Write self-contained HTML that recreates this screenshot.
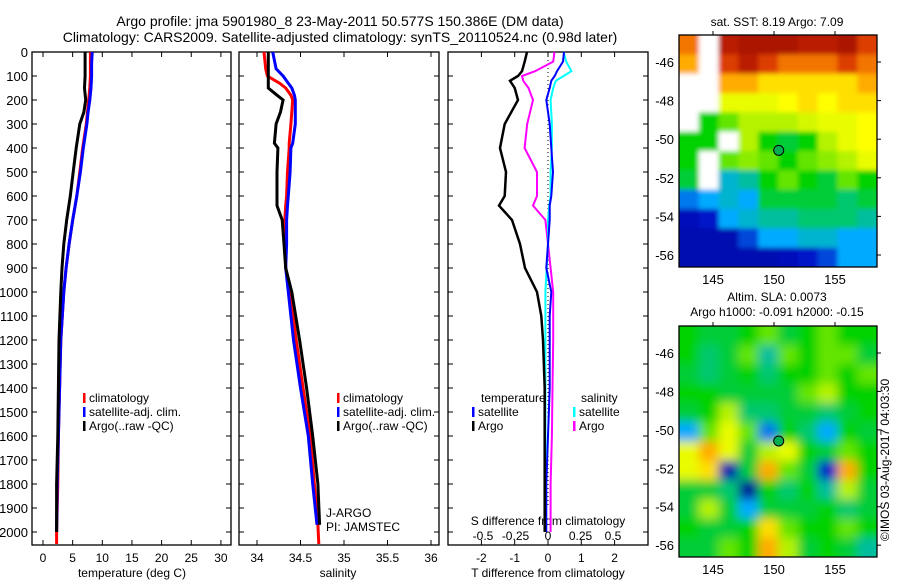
<!DOCTYPE html>
<html><head><meta charset="utf-8"><style>
body{margin:0;background:#fff;}
svg{display:block;font-family:"Liberation Sans",sans-serif;}
</style></head><body>
<svg id="fig" width="900" height="580" xmlns="http://www.w3.org/2000/svg">
<text x="340" y="26" font-size="14" text-anchor="middle">Argo profile: jma 5901980_8 23-May-2011 50.577S 150.386E (DM data)</text>
<text x="340" y="42" font-size="14" text-anchor="middle">Climatology: CARS2009. Satellite-adjusted climatology: synTS_20110524.nc (0.98d later)</text>
<text x="777" y="26" font-size="12" text-anchor="middle">sat. SST: 8.19 Argo: 7.09</text>
<text x="777" y="301" font-size="12" text-anchor="middle">Altim. SLA: 0.0073</text>
<text x="777" y="316" font-size="12" text-anchor="middle">Argo h1000: -0.091 h2000: -0.15</text>
<text transform="translate(889,460) rotate(-90)" font-size="12" text-anchor="middle">©IMOS 03-Aug-2017 04:03:30</text>
<g id="g"></g>
</svg>
<script>
// ---- data ----
const depthT = [0,50,100,150,200,250,300,400,500,600,700,800,900,1000,1200,1400,1600,1800,2000,2050];
const tempClim = [8.0,8.0,8.0,7.9,7.7,7.5,7.3,6.7,6.2,5.7,5.0,4.4,3.9,3.5,3.0,2.8,2.6,2.5,2.3,2.3];
const tempSat = [8.3,8.2,8.2,8.1,7.9,7.6,7.4,6.8,6.3,5.7,5.0,4.4,3.9,3.5,3.0,2.8,2.6,2.4,2.3];
const tempArgo = [7.1,7.1,7.1,7.0,7.2,6.9,6.2,5.6,5.1,4.6,4.0,3.5,3.2,3.0,2.7,2.6,2.5,2.3,2.3];
const depthS = [0,70,100,130,150,180,200,250,300,380,400,500,600,640,700,800,900,1000,1200,1400,1600,1800,1970,2050];
const salClim = [34.08,34.10,34.12,34.26,34.33,34.39,34.41,34.40,34.39,34.37,34.37,34.35,34.34,34.33,34.32,34.32,34.33,34.38,34.45,34.53,34.61,34.66,34.70,34.71];
const salSat = [34.18,34.22,34.30,34.36,34.40,34.43,34.44,34.44,34.44,34.41,34.39,34.38,34.36,34.35,34.34,34.34,34.33,34.36,34.42,34.50,34.59,34.64,34.69];
const salArgo = [34.13,34.13,34.13,34.13,34.13,34.23,34.30,34.27,34.22,34.20,34.24,34.23,34.23,34.23,34.29,34.31,34.33,34.40,34.49,34.57,34.64,34.70,34.72];
const depthD = [0,40,80,100,120,150,200,300,400,500,600,640,700,800,900,1000,1100,1200,1400,1600,1800,2000];
const tdiffSat = [0.48,0.45,0.27,0.2,0.1,0.05,-0.05,0.05,0.1,0.15,0.1,0.05,0.05,0.0,-0.05,0.1,0.05,0.05,0.05,0.0,-0.05,-0.05];
const tdiffArgo = [-0.63,-0.7,-0.78,-0.9,-1.14,-1.0,-0.9,-1.3,-1.44,-1.26,-1.3,-1.47,-1.08,-0.84,-0.69,-0.33,-0.2,-0.15,-0.1,-0.1,-0.1,-0.1];
const sdiffSat = [0.12,0.14,0.18,0.12,0.06,0.04,0.02,0.03,0.03,0.02,0.02,0.01,0.0,0.0,-0.01,-0.02,-0.02,-0.02,-0.02,-0.02,-0.02,-0.02];
const sdiffArgo = [0.05,0.04,-0.1,-0.2,-0.19,-0.15,-0.115,-0.16,-0.18,-0.085,-0.085,-0.115,-0.02,0.0,0.02,0.04,0.04,0.04,0.035,0.03,0.02,0.02];
const depthTicks = [0,100,200,300,400,500,600,700,800,900,1000,1100,1200,1300,1400,1500,1600,1700,1800,1900,2000];
const tempTicks = [0,5,10,15,20,25,30];
const salTicks = [34,34.5,35,35.5,36];
const salTickLabels = ["34","34.5","35","35.5","36"];
const tdTicks = [-2,-1,0,1,2];
const sdTicks = [-0.5,-0.25,0,0.25,0.5];
const sdTickLabels = ["-0.5","-0.25","0","0.25","0.5"];
const lonTicks = [145,150,155];
const latTicks = [-46,-48,-50,-52,-54,-56];
const argoLon = 150.386, argoLat = -50.577;
// map grids (normalised colour values, -1 = no data), rows north->south
const sstGrid = [
[0.85,-1,0.95,0.97,0.97,0.97,0.95,0.95,0.97,0.9],
[0.8,-1,0.9,0.95,0.9,0.85,0.85,0.85,0.9,0.85],
[-1,-1,0.8,0.8,0.75,0.75,0.75,0.75,0.75,0.8],
[-1,-1,0.7,0.7,0.7,0.72,0.75,0.72,0.75,0.75],
[-1,0.55,0.6,0.65,0.65,0.65,0.68,0.7,0.7,0.72],
[0.55,0.55,-1,0.65,0.55,0.5,0.55,0.65,0.7,0.72],
[0.55,-1,0.6,0.62,0.6,0.55,0.6,0.62,0.65,0.7],
[0.5,-1,0.35,0.4,0.55,0.6,0.55,0.5,0.6,0.55],
[0.25,0.3,0.35,0.3,0.5,0.5,0.5,0.5,0.45,0.5],
[0.12,0.15,0.3,0.35,0.4,0.4,0.45,0.45,0.45,0.4],
[0.1,0.1,0.1,0.2,0.3,0.3,0.35,0.35,0.3,0.3],
[0.1,0.1,0.1,0.1,0.1,0.12,0.15,0.2,0.3,0.3]];
const slaGrid = [
[0.55,0.5,0.5,0.55,0.6,0.5,0.55,0.6,0.55,0.55],
[0.55,0.45,0.5,0.6,0.4,0.6,0.55,0.6,0.6,0.5],
[0.5,0.45,0.5,0.55,0.45,0.55,0.55,0.6,0.55,0.6],
[0.55,0.55,0.5,0.5,0.5,0.5,0.6,0.65,0.55,0.55],
[0.5,0.55,0.65,0.45,0.45,0.5,0.5,0.45,0.5,0.55],
[0.3,0.6,0.7,0.6,0.25,0.55,0.45,0.3,0.55,0.5],
[0.7,0.8,0.7,0.5,0.65,0.7,0.55,0.5,0.6,0.55],
[0.7,0.75,0.1,0.5,0.8,0.6,0.5,0.15,0.8,0.55],
[0.5,0.5,0.45,0.05,0.55,0.45,0.55,0.4,0.65,0.5],
[0.5,0.65,0.5,0.3,0.5,0.5,0.5,0.55,0.45,0.5],
[0.55,0.5,0.5,0.55,0.75,0.6,0.55,0.55,0.6,0.55],
[0.5,0.5,0.6,0.55,0.8,0.65,0.5,0.55,0.5,0.4]];

// ---- helpers ----
const NS="http://www.w3.org/2000/svg";
const G=document.getElementById('g');
function mk(tag,attrs,parent){const e=document.createElementNS(NS,tag);for(const k in attrs)e.setAttribute(k,attrs[k]);(parent||G).appendChild(e);return e;}
function txt(x,y,s,anchor,size){const e=mk('text',{x:x,y:y,'font-size':size||12,'text-anchor':anchor||'start'});e.textContent=s;return e;}
const PY0=52,PY1=545;
const yD=d=>PY0+d*0.24;
function panel(x0,x1,name){const r=mk('rect',{x:x0,y:PY0,width:x1-x0,height:PY1-PY0,fill:'none',stroke:'#000','stroke-width':1.3});


depthTicks.forEach(d=>{mk('line',{x1:x0,x2:x0+5,y1:yD(d),y2:yD(d),stroke:'#000'});mk('line',{x1:x1,x2:x1-5,y1:yD(d),y2:yD(d),stroke:'#000'});});}
function line(xs,ds,xf,color,w,name){let p='';for(let i=0;i<xs.length;i++){p+=(i?'L':'M')+xf(xs[i]).toFixed(1)+','+yD(ds[i]).toFixed(1);}
const e=mk('path',{d:p,fill:'none',stroke:color,'stroke-width':w});

}
function legend(x,y,color,label,name){mk('rect',{x:x,y:y-9,width:2.5,height:10,fill:color});const t=txt(x+6,y,label);

}

// depth labels
depthTicks.forEach(d=>{const t=txt(28,yD(d)+5,String(d),'end',13);

});

// Panel 1 temperature
const xT=v=>43+v*5.93;
panel(32,231,'temperature-panel');
tempTicks.forEach(v=>{mk('line',{x1:xT(v),x2:xT(v),y1:PY1,y2:PY1-5,stroke:'#000'});mk('line',{x1:xT(v),x2:xT(v),y1:PY0,y2:PY0+5,stroke:'#000'});
const t=txt(xT(v),562,String(v),'middle',12);

});
txt(132,577,'temperature (deg C)','middle',12);
line(tempClim,depthT,xT,'#f00',3,'temp-climatology-line');
line(tempSat,depthT.slice(0,tempSat.length),xT,'#00f',3,'temp-satellite-line');
line(tempArgo,depthT.slice(0,tempArgo.length),xT,'#000',3,'temp-argo-line');
legend(83,402,'#f00','climatology','legend-climatology');
legend(83,416,'#00f','satellite-adj. clim.','legend-satellite');
legend(83,430,'#000','Argo(..raw -QC)','legend-argo');

// Panel 2 salinity
const xS=v=>257+(v-34)*87;
panel(239,439,'salinity-panel');
salTicks.forEach((v,i)=>{mk('line',{x1:xS(v),x2:xS(v),y1:PY1,y2:PY1-5,stroke:'#000'});mk('line',{x1:xS(v),x2:xS(v),y1:PY0,y2:PY0+5,stroke:'#000'});
const t=txt(xS(v),562,salTickLabels[i],'middle',12);

});
txt(338,577,'salinity','middle',12);
line(salClim,depthS,xS,'#f00',3,'sal-climatology-line');
line(salSat,depthS.slice(0,salSat.length),xS,'#00f',3,'sal-satellite-line');
line(salArgo,depthS.slice(0,salArgo.length),xS,'#000',3,'sal-argo-line');
legend(337,402,'#f00','climatology','legend-sal-climatology');
legend(337,416,'#00f','satellite-adj. clim.','legend-sal-satellite');
legend(337,430,'#000','Argo(..raw -QC)','legend-sal-argo');
txt(326,517,'J-ARGO','start',12);
txt(326,531,'PI: JAMSTEC','start',12);

// Panel 3 differences
const xTD=v=>548+v*33.3, xSD=v=>548+v*130;
panel(448,648,'difference-panel');
mk('line',{x1:548,x2:548,y1:PY0,y2:PY1-40,stroke:'#000','stroke-dasharray':'1,3'});
tdTicks.forEach(v=>{mk('line',{x1:xTD(v),x2:xTD(v),y1:PY1,y2:PY1-5,stroke:'#000'});mk('line',{x1:xTD(v),x2:xTD(v),y1:PY0,y2:PY0+5,stroke:'#000'});
const t=txt(xTD(v),562,String(v),'middle',12);

});
sdTicks.forEach((v,i)=>{const t=txt(xSD(v),540,sdTickLabels[i],'middle',12);

});
txt(548,525,'S difference from climatology','middle',12);
txt(548,577,'T difference from climatology','middle',12);
line(sdiffArgo,depthD,xSD,'#f0f',2,'sdiff-argo-line');
line(sdiffSat,depthD,xSD,'#0ff',2,'sdiff-satellite-line');
line(tdiffSat,depthD,xTD,'#00f',2,'tdiff-satellite-line');
line(tdiffArgo,depthD,xTD,'#000',2.5,'tdiff-argo-line');
txt(481,402,'temperature');
legend(472,416,'#00f','satellite','legend-tdiff-satellite');
legend(472,430,'#000','Argo','legend-tdiff-argo');
txt(581,402,'salinity');
legend(573,416,'#0ff','satellite','legend-sdiff-satellite');
legend(573,430,'#f0f','Argo','legend-sdiff-argo');

// Maps
const stops=[[0,[0,0,128]],[0.15,[0,20,200]],[0.3,[0,170,255]],[0.45,[0,200,110]],[0.55,[0,210,0]],[0.63,[160,240,0]],[0.72,[255,255,0]],[0.82,[255,150,0]],[0.9,[220,60,0]],[1,[150,0,0]]];
function col(v){for(let i=1;i<stops.length;i++){if(v<=stops[i][0]){const a=stops[i-1],b=stops[i],t=(v-a[0])/(b[0]-a[0]);return 'rgb('+a[1].map((c,j)=>Math.round(c+(b[1][j]-c)*t)).join(',')+')';}}return 'rgb(150,0,0)';}
const lonX=lon=>713+(lon-145)*12.2;
const MX0=679,MX1=877;
function map(grid,y0,y1,name,blur){
 const latY=lat=>y0+27+(-46-lat)*19.3*(y1-y0)/232;
 const g=mk('g',{});
 
 
 const nr=grid.length,nc=grid[0].length;
 const cw=(MX1-MX0)/nc, ch=(y1-y0)/nr, pad=15;
 const fid='f'+name;
 const f=mk('filter',{id:fid,x:'-10%',y:'-10%',width:'120%',height:'120%'},g);mk('feGaussianBlur',{stdDeviation:blur},f);
 const cp=mk('clipPath',{id:'c'+name},g);mk('rect',{x:MX0,y:y0,width:MX1-MX0,height:y1-y0},cp);
 const inner=mk('g',{'clip-path':'url(#c'+name+')'},g);
 const cells=mk('g',{filter:'url(#'+fid+')'},inner);
 grid.forEach((row,r)=>row.forEach((v,c)=>{
  const x=MX0+c*cw-(c===0?pad:0), y=y0+r*ch-(r===0?pad:0);
  const w=cw+(c===0?pad:0)+(c===nc-1?pad:0)+0.5, h=ch+(r===0?pad:0)+(r===nr-1?pad:0)+0.5;
  const cell=mk('rect',{x:x,y:y,width:w,height:h,fill:v<0?'#fff':col(v)},cells);
  
  }));
 mk('rect',{x:MX0,y:y0,width:MX1-MX0,height:y1-y0,fill:'none',stroke:'#000','stroke-width':1.3},g);
 lonTicks.forEach(l=>{mk('line',{x1:lonX(l),x2:lonX(l),y1:y0,y2:y0-4,stroke:'#000'},g);
 const t=txt(lonX(l),y1+17,String(l),'middle',13);
 
 });
 latTicks.forEach(l=>{mk('line',{x1:MX1,x2:MX1+4,y1:latY(l),y2:latY(l),stroke:'#000'},g);
 const t=txt(674,latY(l)+5,String(l),'end',13);
 
 });
 const m=mk('circle',{cx:lonX(argoLon),cy:latY(argoLat),r:5,fill:'#00b050',stroke:'#000','stroke-width':1},g);
 
 
}
map(sstGrid,35,267,'sst-map',2.5);
map(slaGrid,326,557,'sla-map',5);
</script>
</body></html>
